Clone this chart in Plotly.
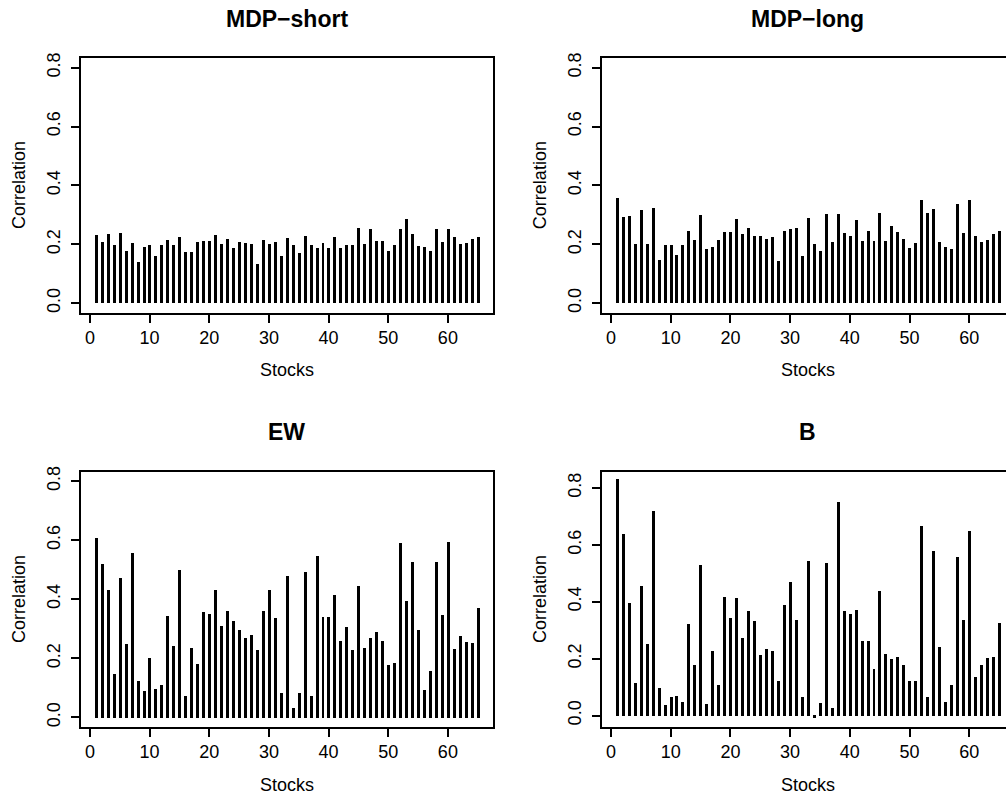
import plotly.graph_objects as go

W, H = 1006, 798

stocks = list(range(1, 66))

mdp_short = [0.232, 0.208, 0.236, 0.196, 0.237, 0.178, 0.205, 0.138, 0.191, 0.196,
             0.160, 0.196, 0.213, 0.196, 0.223, 0.173, 0.172, 0.206, 0.209, 0.209,
             0.232, 0.201, 0.219, 0.186, 0.208, 0.204, 0.200, 0.133, 0.214, 0.201,
             0.208, 0.161, 0.220, 0.196, 0.170, 0.228, 0.197, 0.186, 0.205, 0.186,
             0.223, 0.186, 0.197, 0.197, 0.254, 0.201, 0.250, 0.210, 0.210, 0.178,
             0.196, 0.253, 0.287, 0.236, 0.195, 0.189, 0.178, 0.253, 0.206, 0.250,
             0.223, 0.201, 0.205, 0.219, 0.224]

mdp_long = [0.355, 0.292, 0.297, 0.202, 0.315, 0.202, 0.324, 0.147, 0.197, 0.197,
            0.164, 0.197, 0.244, 0.215, 0.299, 0.182, 0.192, 0.215, 0.241, 0.241,
            0.287, 0.236, 0.256, 0.228, 0.228, 0.219, 0.224, 0.143, 0.246, 0.250,
            0.254, 0.161, 0.290, 0.201, 0.178, 0.301, 0.206, 0.301, 0.237, 0.228,
            0.282, 0.209, 0.246, 0.210, 0.306, 0.210, 0.263, 0.242, 0.219, 0.188,
            0.205, 0.351, 0.305, 0.318, 0.206, 0.192, 0.183, 0.335, 0.238, 0.351,
            0.228, 0.206, 0.215, 0.233, 0.246]

ew = [0.607, 0.522, 0.431, 0.148, 0.472, 0.251, 0.557, 0.124, 0.092, 0.202,
      0.096, 0.110, 0.346, 0.242, 0.500, 0.075, 0.235, 0.183, 0.359, 0.350,
      0.431, 0.310, 0.362, 0.327, 0.296, 0.269, 0.282, 0.229, 0.363, 0.431,
      0.338, 0.083, 0.481, 0.034, 0.083, 0.494, 0.074, 0.549, 0.341, 0.341,
      0.415, 0.261, 0.308, 0.229, 0.446, 0.238, 0.269, 0.291, 0.260, 0.179,
      0.187, 0.592, 0.396, 0.527, 0.296, 0.093, 0.157, 0.529, 0.347, 0.594,
      0.233, 0.278, 0.258, 0.252, 0.373]

b = [0.831, 0.640, 0.395, 0.114, 0.457, 0.253, 0.720, 0.097, 0.038, 0.067,
     0.071, 0.050, 0.324, 0.180, 0.531, 0.043, 0.227, 0.109, 0.419, 0.343,
     0.414, 0.272, 0.367, 0.333, 0.215, 0.236, 0.227, 0.124, 0.391, 0.471,
     0.337, 0.067, 0.544, -0.006, 0.044, 0.536, 0.029, 0.751, 0.367, 0.358,
     0.372, 0.264, 0.264, 0.165, 0.438, 0.216, 0.199, 0.208, 0.179, 0.124,
     0.124, 0.669, 0.066, 0.578, 0.242, 0.049, 0.109, 0.560, 0.338, 0.649,
     0.137, 0.178, 0.203, 0.207, 0.326]

titles = ["MDP\u2212short", "MDP\u2212long", "EW", "B"]
x_ticks = [0, 10, 20, 30, 40, 50, 60]
y_ticks = [0.0, 0.2, 0.4, 0.6, 0.8]
y_tick_text = ["0.0", "0.2", "0.4", "0.6", "0.8"]

# plot frames in pixels: (left, right, top, bottom)
frames = [(80.6, 493.0, 52.6, 309.0),
          (601.7, 1006.0, 52.6, 309.0),
          (80.6, 493.0, 469.2, 726.4),
          (601.7, 1006.0, 469.2, 726.4)]
x_ranges = [[-1.56, 67.56], [-1.56, 66.16], [-1.56, 67.56], [-1.56, 66.16]]
y_ranges = [[-0.032, 0.832], [-0.032, 0.832], [-0.032, 0.832], [-0.040, 0.857]]
full_box = [True, False, True, False]  # right panels are cut off at the edge

font = "Liberation Sans, Arial, sans-serif"


def px(x):
    return x / W


def py(y):
    return 1 - y / H


fig = go.Figure()
annotations = []
for i, vals in enumerate([mdp_short, mdp_long, ew, b]):
    n = "" if i == 0 else str(i + 1)
    fig.add_trace(go.Bar(x=stocks, y=vals, width=0.5, marker_color="black",
                         marker_line_width=0, xaxis="x" + n, yaxis="y" + n,
                         showlegend=False))
    l, r, t, bt = frames[i]
    fig.layout["xaxis" + n] = dict(
        domain=[px(l), px(r)], range=x_ranges[i], anchor="y" + n,
        tickvals=x_ticks, ticks="outside", ticklen=8, tickwidth=1.5,
        tickcolor="black", showline=True, linewidth=1.7, linecolor="black",
        mirror=True, showgrid=False, zeroline=False, ticklabelstandoff=0,
        tickfont=dict(family=font, size=18, color="black"))
    fig.layout["yaxis" + n] = dict(
        domain=[py(bt), py(t)], range=y_ranges[i], anchor="x" + n,
        tickvals=y_ticks, ticktext=y_tick_text, tickangle=-90,
        ticks="outside", ticklen=8, tickwidth=1.5, tickcolor="black",
        showline=True, linewidth=1.7, linecolor="black", ticklabelstandoff=4,
        mirror=full_box[i], showgrid=False, zeroline=False,
        tickfont=dict(family=font, size=18, color="black"))
    cx = px(l + 412.4 / 2)
    annotations.append(dict(text="<b>" + titles[i] + "</b>", x=cx, y=py(t - 39.5),
                            xanchor="center", yanchor="middle",
                            xref="paper", yref="paper", showarrow=False,
                            font=dict(family=font, size=23, color="black")))
    annotations.append(dict(text="Stocks", x=cx, y=py(bt + 58),
                            xanchor="center", yanchor="middle",
                            xref="paper", yref="paper", showarrow=False,
                            font=dict(family=font, size=18, color="black")))
    annotations.append(dict(text="Correlation", x=px(l - 61), y=py((t + bt) / 2),
                            xanchor="center", yanchor="middle",
                            xref="paper", yref="paper", showarrow=False, textangle=-90,
                            font=dict(family=font, size=18, color="black")))

fig.update_layout(width=W, height=H, margin=dict(l=0, r=0, t=0, b=0),
                  plot_bgcolor="white", paper_bgcolor="white",
                  annotations=annotations, bargap=0)

# drop the default 8px page margin so the figure fills the window
fig.write_html("out.html", config={"displayModeBar": False},
               post_script="document.body.style.margin = '0';")
